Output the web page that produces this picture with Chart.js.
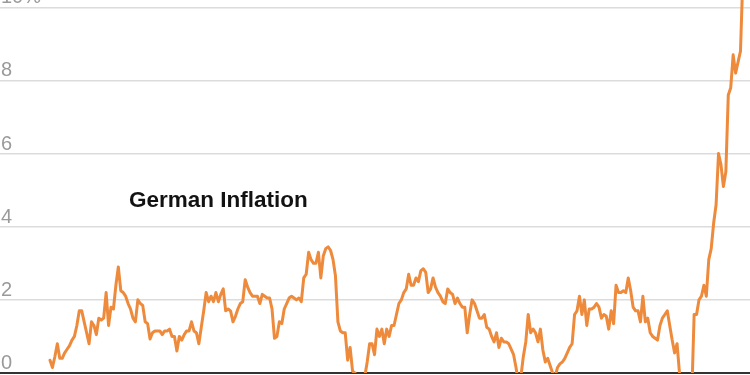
<!DOCTYPE html>
<html>
<head>
<meta charset="utf-8">
<script src="https://cdn.jsdelivr.net/npm/chart.js@4/dist/chart.umd.min.js"></script>
<style>
  html, body { margin: 0; padding: 0; background: #fff; }
  canvas { display: block; }
</style>
</head>
<body>
<canvas id="c" width="750" height="375"></canvas>
<script>
// ---- Data (monthly annual inflation rate, %) ----
const title = "German Inflation";
const startYear = 1999;
const inflation = [
  // 1999
  0.35, 0.15, 0.45, 0.8, 0.4, 0.4, 0.55, 0.65, 0.75, 0.9, 1.0, 1.3,
  // 2000
  1.7, 1.7, 1.4, 1.1, 0.8, 1.4, 1.3, 1.05, 1.5, 1.45, 1.5, 2.2,
  // 2001
  1.3, 1.8, 1.75, 2.4, 2.9, 2.25, 2.2, 2.1, 1.9, 1.75, 1.5, 1.4,
  // 2002
  2.0, 1.9, 1.85, 1.4, 1.35, 0.93, 1.1, 1.15, 1.15, 1.15, 1.05, 1.15,
  // 2003
  1.15, 1.2, 1.0, 1.0, 0.6, 1.0, 0.9, 1.05, 1.15, 1.15, 1.4, 1.15,
  // 2004
  1.1, 0.8, 1.25, 1.7, 2.2, 1.95, 2.1, 1.95, 2.2, 1.95, 2.15, 2.3,
  // 2005
  1.7, 1.75, 1.7, 1.4, 1.55, 1.75, 1.9, 1.95, 2.55, 2.35, 2.2, 2.1,
  // 2006
  2.1, 2.1, 1.9, 2.15, 2.1, 2.05, 2.05, 1.75, 0.95, 1.0, 1.4, 1.35,
  // 2007
  1.75, 1.9, 2.05, 2.1, 2.05, 2.0, 2.05, 1.95, 2.6, 2.7, 3.3, 3.1,
  // 2008
  3.0, 3.0, 3.3, 2.6, 3.2, 3.4, 3.45, 3.35, 3.1, 2.65, 1.4, 1.15,
  // 2009
  1.1, 1.1, 0.35, 0.7, 0.05, 0.0, -0.7, -0.1, -0.5, -0.1, 0.3, 0.8,
  // 2010
  0.8, 0.5, 1.2, 1.0, 1.2, 0.8, 1.2, 1.0, 1.3, 1.3, 1.6, 1.9,
  // 2011
  2.0, 2.2, 2.3, 2.7, 2.4, 2.4, 2.6, 2.5, 2.8, 2.85, 2.75, 2.2,
  // 2012
  2.3, 2.6, 2.35, 2.2, 2.1, 1.95, 1.9, 2.3, 2.2, 2.15, 1.9, 2.05,
  // 2013
  1.9, 1.8, 1.8, 1.1, 1.6, 2.0, 1.9, 1.7, 1.5, 1.5, 1.6, 1.25,
  // 2014
  1.2, 1.0, 0.85, 1.1, 0.7, 0.95, 0.85, 0.85, 0.8, 0.65, 0.5, 0.15,
  // 2015
  -0.3, -0.1, 0.45, 0.85, 1.6, 1.1, 1.2, 1.1, 0.85, 1.2, 0.63, 0.3,
  // 2016
  0.4, 0.2, 0.0, -0.1, 0.15, 0.25, 0.3, 0.4, 0.55, 0.7, 0.8, 1.6,
  // 2017
  1.7, 2.1, 1.6, 2.0, 1.3, 1.75, 1.75, 1.8, 1.9, 1.8, 1.5, 1.6,
  // 2018
  1.55, 1.2, 1.7, 1.35, 2.4, 2.2, 2.2, 2.25, 2.2, 2.6, 2.25, 1.8,
  // 2019
  1.7, 1.7, 1.4, 2.1, 1.4, 1.5, 1.1, 1.0, 0.95, 0.9, 1.3, 1.5,
  // 2020
  1.6, 1.7, 1.3, 0.9, 0.55, 0.8, 0.0, -0.1, -0.4, -0.5, -0.7, -0.7,
  // 2021
  1.6, 1.6, 2.0, 2.1, 2.4, 2.1, 3.1, 3.4, 4.1, 4.6, 6.0, 5.7,
  // 2022
  5.1, 5.5, 7.6, 7.8, 8.7, 8.2, 8.5, 8.8, 10.9, 11.6
];
const months = inflation.map((_, i) =>
  `${startYear + Math.floor(i / 12)}-${String((i % 12) + 1).padStart(2, '0')}`);
const yTicks = [0, 2, 4, 6, 8, 10];
const yTickLabels = ['0', '2', '4', '6', '8', '10%'];

// ---- Chart ----
const points = inflation.map((v, i) => ({ x: i, y: v }));

const labelPlugin = {
  id: 'chartLabels',
  afterDraw(chart) {
    const ctx = chart.ctx;
    const ys = chart.scales.y;
    ctx.save();
    // y tick labels, positioned through the y scale, sitting above each gridline
    ctx.font = "20px 'Liberation Sans', Arial, sans-serif";
    ctx.fillStyle = '#9a9a9a';
    ctx.textAlign = 'left';
    ctx.textBaseline = 'alphabetic';
    yTicks.forEach((v, k) => {
      ctx.fillText(yTickLabels[k], chart.chartArea.left + 1, ys.getPixelForValue(v) - 4);
    });
    // chart label
    ctx.font = "bold 22.5px 'Liberation Sans', Arial, sans-serif";
    ctx.fillStyle = '#121212';
    ctx.fillText(title, chart.chartArea.left + 129, 207);
    ctx.restore();
  }
};

new Chart(document.getElementById('c'), {
  type: 'line',
  data: {
    labels: months,
    datasets: [{
      data: points,
      borderColor: '#ee8a3c',
      borderWidth: 3,
      pointRadius: 0,
      tension: 0,
      borderJoinStyle: 'round',
      borderCapStyle: 'round',
      clip: { left: 5, right: 5, top: 0, bottom: 0 }
    }]
  },
  options: {
    responsive: false,
    animation: false,
    layout: { padding: { left: 0, right: 0, top: 0, bottom: 2 } },
    plugins: { legend: { display: false }, tooltip: { enabled: false }, title: { display: false } },
    scales: {
      x: {
        type: 'linear',
        min: -20.5,
        max: 286.9,
        display: false
      },
      y: {
        min: 0,
        max: 10.2,
        position: 'left',
        afterBuildTicks: s => { s.ticks = yTicks.map(v => ({ value: v })); },
        afterFit: s => { s.width = 0; s.paddingTop = 0; s.paddingBottom = 0; },
        border: { display: false },
        grid: {
          drawTicks: false,
          color: c => (c.tick && c.tick.value === 0) ? '#333333' : '#dcdcdc',
          lineWidth: c => (c.tick && c.tick.value === 0) ? 2 : 1.5
        },
        ticks: { display: false }
      }
    }
  },
  plugins: [labelPlugin]
});
</script>
</body>
</html>
